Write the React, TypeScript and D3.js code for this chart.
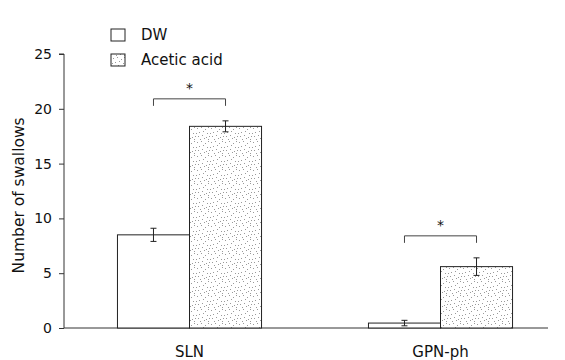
import React, { useEffect, useRef } from 'react';
import * as d3 from 'd3';

const groups = ['SLN', 'GPN-ph'];
const seriesNames = ['DW', 'Acetic acid'];
const dwValues = [8.5, 0.45];
const dwErrors = [0.6, 0.25];
const acidValues = [18.4, 5.6];
const acidErrors = [0.5, 0.8];
const yTicks = [0, 5, 10, 15, 20, 25];
const sigLabels = ['*', '*'];

// fixed stipple dots for the texture, in a 14x14 tile
const stipple = [
  [1, 2], [5, 1], [9, 3], [12, 1], [3, 6], [7, 5], [11, 7], [2, 10],
  [6, 9], [10, 11], [13, 10], [4, 13], [8, 12], [0, 7], [12, 13]
];

const App = () => {
  const svgRef = useRef<SVGSVGElement>(null);

  useEffect(() => {
    const svg = d3.select(svgRef.current);
    svg.selectAll('*').remove();

    const font = 'DejaVu Sans, Liberation Sans, sans-serif';
    const x0 = d3.scaleBand().domain(groups).range([64, 566]).paddingInner(0.426).paddingOuter(0.213);
    const x1 = d3.scaleBand().domain(seriesNames).range([0, x0.bandwidth()]);
    const y = d3.scaleLinear().domain([0, 25]).range([328, 54]);

    const defs = svg.append('defs');
    const pat = defs.append('pattern')
      .attr('id', 'dots')
      .attr('patternUnits', 'userSpaceOnUse')
      .attr('width', 14)
      .attr('height', 14);
    pat.append('rect').attr('width', 14).attr('height', 14).attr('fill', '#fff');
    pat.selectAll('rect.d')
      .data(stipple)
      .enter()
      .append('rect')
      .attr('class', 'd')
      .attr('x', d => d[0])
      .attr('y', d => d[1])
      .attr('width', 1)
      .attr('height', 1)
      .attr('fill', '#9a9a9a');

    // y axis
    const yAxis = svg.append('g').attr('transform', 'translate(64,0)')
      .call(d3.axisLeft(y).tickValues(yTicks).tickSize(5).tickPadding(7));
    yAxis.select('.domain').attr('stroke', '#333').attr('d', `M-5,${y(25)}H0V${y(0)}`);
    yAxis.selectAll('line').attr('stroke', '#333');
    yAxis.selectAll('text').attr('font-family', font).attr('font-size', 14).attr('fill', '#111');

    // baseline
    svg.append('line')
      .attr('x1', 64).attr('x2', 548)
      .attr('y1', y(0)).attr('y2', y(0))
      .attr('stroke', '#333');

    svg.append('text')
      .attr('transform', `translate(24,${y(12.1)}) rotate(-90)`)
      .attr('text-anchor', 'middle')
      .attr('font-family', font)
      .attr('font-size', 15.5)
      .attr('fill', '#111')
      .text('Number of swallows');

    const series = [
      { name: seriesNames[0], values: dwValues, errors: dwErrors, fill: '#fff' },
      { name: seriesNames[1], values: acidValues, errors: acidErrors, fill: 'url(#dots)' }
    ];

    series.forEach(s => {
      const g = svg.append('g');
      g.selectAll('rect')
        .data(groups)
        .enter()
        .append('rect')
        .attr('x', d => x0(d)! + x1(s.name)!)
        .attr('y', (d, i) => y(s.values[i]))
        .attr('width', x1.bandwidth())
        .attr('height', (d, i) => y(0) - y(s.values[i]))
        .attr('fill', s.fill)
        .attr('stroke', '#222')
        .attr('stroke-width', 1);

      groups.forEach((grp, i) => {
        const cx = x0(grp)! + x1(s.name)! + x1.bandwidth() / 2;
        const top = y(s.values[i] + s.errors[i]);
        const bot = y(s.values[i] - s.errors[i]);
        g.append('line').attr('x1', cx).attr('x2', cx).attr('y1', top).attr('y2', bot).attr('stroke', '#222');
        g.append('line').attr('x1', cx - 3).attr('x2', cx + 3).attr('y1', top).attr('y2', top).attr('stroke', '#222');
        g.append('line').attr('x1', cx - 3).attr('x2', cx + 3).attr('y1', bot).attr('y2', bot).attr('stroke', '#222');
      });
    });

    // significance brackets
    groups.forEach((grp, i) => {
      const xa = x0(grp)! + x1(seriesNames[0])! + x1.bandwidth() / 2;
      const xb = x0(grp)! + x1(seriesNames[1])! + x1.bandwidth() / 2;
      const top = Math.max(dwValues[i] + dwErrors[i], acidValues[i] + acidErrors[i]);
      const yb = y(top) - 22;
      svg.append('path')
        .attr('d', `M${xa},${yb + 7}V${yb}H${xb}V${yb + 7}`)
        .attr('fill', 'none')
        .attr('stroke', '#444');
      svg.append('text')
        .attr('x', (xa + xb) / 2)
        .attr('y', yb - 6)
        .attr('text-anchor', 'middle')
        .attr('font-family', font)
        .attr('font-size', 14)
        .attr('fill', '#111')
        .text(sigLabels[i]);
    });

    // category labels
    svg.selectAll('text.cat')
      .data(groups)
      .enter()
      .append('text')
      .attr('class', 'cat')
      .attr('x', d => x0(d)! + x0.bandwidth() / 2)
      .attr('y', 357)
      .attr('text-anchor', 'middle')
      .attr('font-family', font)
      .attr('font-size', 15)
      .attr('fill', '#111')
      .text(d => d);

    // legend
    const legend = svg.append('g');
    series.forEach((s, i) => {
      legend.append('rect')
        .attr('x', 111).attr('y', 29 + i * 25)
        .attr('width', 14).attr('height', 12)
        .attr('fill', s.fill)
        .attr('stroke', '#222');
      legend.append('text')
        .attr('x', 141).attr('y', 40 + i * 25)
        .attr('font-family', font)
        .attr('font-size', 15)
        .attr('fill', '#111')
        .text(s.name);
    });
  }, []);

  return (
    <svg ref={svgRef} width={565} height={360} style={{ position: 'absolute', left: 0, top: 0, background: '#fff' }} />
  );
};

export default App;
